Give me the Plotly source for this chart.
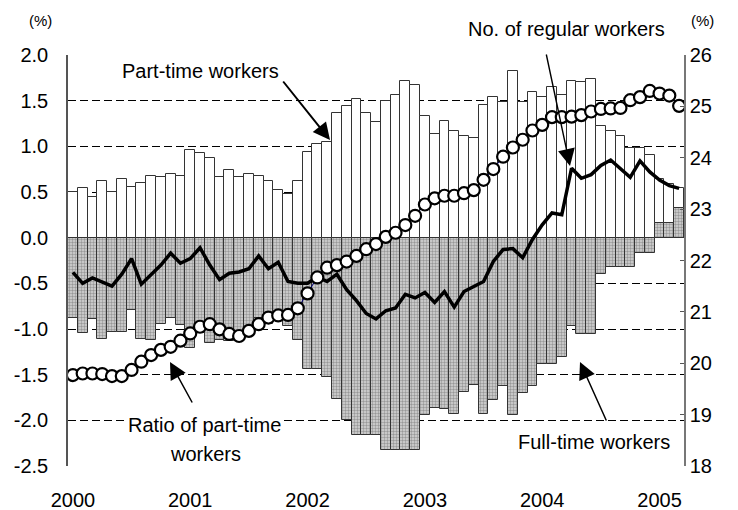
import plotly.graph_objects as go

# Monthly data, Jan 2000 - Mar 2005 (63 months)
months = list(range(63))
year_ticks = [0, 12, 24, 36, 48, 60]
year_labels = ["2000", "2001", "2002", "2003", "2004", "2005"]

part_time = [0.50, 0.54, 0.44, 0.62, 0.50, 0.64, 0.56, 0.60, 0.67, 0.66, 0.70, 0.67,
             0.96, 0.93, 0.87, 0.66, 0.74, 0.66, 0.70, 0.67, 0.62, 0.52, 0.48, 0.62,
             0.94, 1.03, 1.05, 1.36, 1.44, 1.52, 1.36, 1.27, 1.50, 1.56, 1.71, 1.67,
             1.33, 1.14, 1.28, 1.17, 1.11, 1.09, 1.45, 1.54, 1.48, 1.83, 1.48, 1.59,
             1.54, 1.65, 1.56, 1.72, 1.70, 1.74, 1.22, 1.17, 1.11, 0.98, 0.98, 0.91,
             0.48, 0.43, 0.22]

full_time = [-0.88, -1.04, -0.89, -1.11, -1.03, -1.03, -0.79, -1.11, -1.12, -0.95, -0.88, -0.96,
             -1.21, -1.04, -1.15, -1.12, -1.13, -1.04, -1.04, -0.88, -0.95, -0.82, -0.97, -1.12,
             -1.44, -1.44, -1.53, -1.77, -2.00, -2.16, -2.16, -2.16, -2.33, -2.33, -2.33, -2.33,
             -1.94, -1.87, -1.88, -1.93, -1.69, -1.61, -1.93, -1.78, -1.62, -1.94, -1.70, -1.62,
             -1.38, -1.38, -1.31, -0.97, -1.05, -1.05, -0.40, -0.32, -0.32, -0.32, -0.17, -0.17,
             0.16, 0.16, 0.32]

regular = [-0.38, -0.50, -0.44, -0.48, -0.53, -0.40, -0.23, -0.51, -0.41, -0.30, -0.17, -0.28,
           -0.23, -0.11, -0.30, -0.46, -0.39, -0.375, -0.34, -0.20, -0.34, -0.27, -0.48, -0.50,
           -0.50, -0.43, -0.48, -0.40, -0.57, -0.69, -0.83, -0.89, -0.80, -0.77, -0.62, -0.66,
           -0.60, -0.71, -0.59, -0.76, -0.59, -0.53, -0.48, -0.26, -0.13, -0.12, -0.22, -0.02,
           0.14, 0.27, 0.25, 0.76, 0.65, 0.69, 0.79, 0.85, 0.76, 0.66, 0.84, 0.72,
           0.63, 0.57, 0.54]

ratio = [19.77, 19.80, 19.80, 19.79, 19.75, 19.75, 19.87, 20.03, 20.16, 20.26, 20.32, 20.44,
         20.58, 20.71, 20.76, 20.66, 20.57, 20.53, 20.63, 20.76, 20.89, 20.93, 20.94, 21.07,
         21.36, 21.67, 21.86, 21.91, 21.98, 22.09, 22.22, 22.32, 22.46, 22.54, 22.69, 22.87,
         23.09, 23.21, 23.26, 23.26, 23.31, 23.37, 23.57, 23.78, 24.02, 24.20, 24.35, 24.53,
         24.64, 24.79, 24.79, 24.80, 24.83, 24.90, 24.95, 24.96, 24.97, 25.12, 25.18, 25.30,
         25.25, 25.21, 25.01]

left_ticks = [2.0, 1.5, 1.0, 0.5, 0.0, -0.5, -1.0, -1.5, -2.0, -2.5]
left_labels = ["2.0", "1.5", "1.0", "0.5", "0.0", "-0.5", "-1.0", "-1.5", "-2.0", "-2.5"]
right_ticks = [18, 19, 20, 21, 22, 23, 24, 25, 26]

FONT = "Liberation Sans, Arial, sans-serif"

fig = go.Figure()

fig.add_trace(go.Bar(
    x=months, y=full_time, name="Full-time workers",
    marker=dict(color="#c8c8c8",
                line=dict(color="#333333", width=1),
                pattern=dict(shape=".", fgcolor="#5a5a5a", bgcolor="#d6d6d6", size=3, solidity=0.5)),
))
fig.add_trace(go.Bar(
    x=months, y=part_time, name="Part-time workers",
    marker=dict(color="white", line=dict(color="#333333", width=1)),
))
fig.add_trace(go.Scatter(
    x=months, y=regular, mode="lines", name="No. of regular workers",
    line=dict(color="black", width=3.5),
))
fig.add_trace(go.Scatter(
    x=months, y=ratio, mode="lines+markers", name="Ratio of part-time workers",
    yaxis="y2",
    line=dict(color="#000080", width=1),
    marker=dict(symbol="circle", size=12, color="white", line=dict(color="black", width=2.2)),
))

fig.update_layout(
    width=738, height=510,
    margin=dict(l=68, r=54, t=55, b=44, autoexpand=False),
    paper_bgcolor="white", plot_bgcolor="white",
    barmode="relative", bargap=0,
    showlegend=False,
    font=dict(family=FONT, size=20, color="black"),
    xaxis=dict(
        range=[-0.5, 62.5], tickvals=year_ticks, ticktext=year_labels,
        showgrid=False, zeroline=False, showline=False, automargin=False,
        ticks="outside", ticklen=16, tickcolor="rgba(0,0,0,0)",
        tickfont=dict(size=20),
    ),
    yaxis=dict(
        range=[-2.5, 2.0], tickvals=left_ticks, ticktext=left_labels,
        showgrid=True, gridcolor="black", gridwidth=1, griddash="8px,4px",
        zeroline=True, zerolinecolor="black", zerolinewidth=1,
        showline=True, linecolor="#555555", linewidth=1.5, automargin=False,
        ticks="outside", ticklen=14, tickcolor="rgba(0,0,0,0)",
        tickfont=dict(size=20),
    ),
    yaxis2=dict(
        range=[18, 26], tickvals=right_ticks, overlaying="y", side="right",
        showgrid=False, zeroline=False, automargin=False,
        showline=True, linecolor="#777777", linewidth=1.5,
        ticks="inside", ticklen=4, tickcolor="#555555",
        tickfont=dict(size=20),
    ),
)

def pxx(px):
    return (px - 68) / 616.0

def pxy(py):
    return (466 - py) / 411.0

ann = []
# (%) labels
ann.append(dict(x=pxx(40), y=pxy(20), xref="paper", yref="paper", text="(%)", showarrow=False,
                font=dict(size=15), xanchor="center", yanchor="middle"))
ann.append(dict(x=pxx(702), y=pxy(20), xref="paper", yref="paper", text="(%)", showarrow=False,
                font=dict(size=15), xanchor="center", yanchor="middle"))
# texts
ann.append(dict(x=pxx(200), y=pxy(71), xref="paper", yref="paper", text="Part-time workers",
                showarrow=False, xanchor="center", yanchor="middle"))
ann.append(dict(x=pxx(566), y=pxy(29), xref="paper", yref="paper", text="No. of regular workers",
                showarrow=False, xanchor="center", yanchor="middle"))
ann.append(dict(x=pxx(204), y=pxy(425), xref="paper", yref="paper", text="Ratio of part-time",
                showarrow=False, xanchor="center", yanchor="middle", bgcolor="white"))
ann.append(dict(x=pxx(205), y=pxy(454), xref="paper", yref="paper", text="workers",
                showarrow=False, xanchor="center", yanchor="middle"))
ann.append(dict(x=pxx(594), y=pxy(442), xref="paper", yref="paper", text="Full-time workers",
                showarrow=False, xanchor="center", yanchor="middle"))
# arrows (tip, tail offsets in px)
arrows = [
    ((330, 140), (282, 80), 2.0),
    ((570, 166), (546, 53), 1.4),
    ((170, 362), (193, 404), 1.5),
    ((580, 362), (607, 422), 1.5),
]
for (tx, ty), (sx, sy), w in arrows:
    ann.append(dict(x=pxx(tx), y=pxy(ty), xref="paper", yref="paper", text="",
                    showarrow=True, ax=sx - tx, ay=sy - ty, arrowhead=2,
                    arrowsize=3.4 / w, arrowwidth=w, arrowcolor="black", standoff=0))

fig.update_layout(annotations=ann)

fig.write_html(
    "out.html",
    config={"displayModeBar": False},
    post_script="document.body.style.margin='0';document.body.style.overflow='hidden';",
)
